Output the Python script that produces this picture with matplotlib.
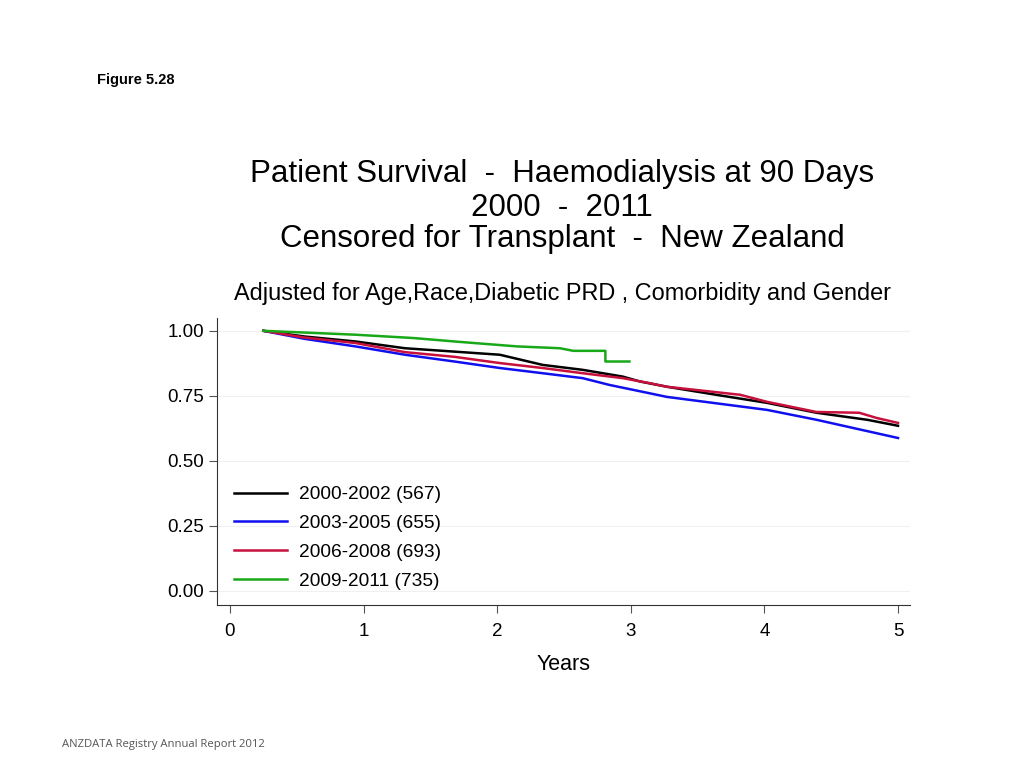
import matplotlib
matplotlib.use("Agg")
import matplotlib.pyplot as plt

plt.rcParams['font.family'] = ['Liberation Sans', 'DejaVu Sans']

# Kaplan-Meier estimates (years, survival)
t_0002 = [0.25, 0.56, 0.94, 1.31, 1.68, 2.02, 2.34, 2.64, 2.94, 3.07, 3.27, 3.64, 4.02, 4.39, 4.77, 5.0]
s_0002 = [1.0, 0.978, 0.959, 0.933, 0.920, 0.908, 0.869, 0.850, 0.824, 0.805, 0.785, 0.754, 0.723, 0.685, 0.658, 0.635]

t_0305 = [0.25, 0.56, 0.94, 1.31, 1.68, 2.02, 2.34, 2.64, 2.84, 3.14, 3.27, 4.02, 4.39, 5.0]
s_0305 = [1.0, 0.969, 0.940, 0.908, 0.882, 0.857, 0.837, 0.818, 0.792, 0.760, 0.746, 0.696, 0.658, 0.588]

t_0608 = [0.25, 0.56, 0.94, 1.31, 1.68, 2.02, 2.34, 2.64, 2.94, 3.14, 3.27, 3.82, 4.02, 4.39, 4.71, 4.84, 5.0]
s_0608 = [1.0, 0.974, 0.953, 0.918, 0.900, 0.876, 0.857, 0.837, 0.818, 0.799, 0.785, 0.754, 0.727, 0.688, 0.685, 0.665, 0.646]

t_0911 = [0.25, 0.94, 1.38, 1.68, 2.15, 2.47, 2.57, 2.81, 2.81, 2.99]
s_0911 = [1.0, 0.985, 0.972, 0.959, 0.940, 0.933, 0.923, 0.923, 0.882, 0.882]

labels = ['2000-2002 (567)', '2003-2005 (655)', '2006-2008 (693)', '2009-2011 (735)']
colors = ['black', '#1010ee', '#c8103c', '#18a818']
yticks = [0.0, 0.25, 0.5, 0.75, 1.0]
xticks = [0, 1, 2, 3, 4, 5]

fig = plt.figure(figsize=(10.24, 7.68), dpi=100)
ax = fig.add_axes([0.2119, 0.2122, 0.6768, 0.374])

for y in yticks:
    ax.axhline(y, color='#f0f0f0', lw=0.8, zorder=0)

series = [(t_0002, s_0002), (t_0305, s_0305), (t_0608, s_0608), (t_0911, s_0911)]
for (t, s), lab, c in zip(series, labels, colors):
    ax.plot(t, s, color=c, lw=1.8, label=lab)

ax.set_xlim(-0.097, 5.09)
ax.set_ylim(-0.054, 1.05)
ax.set_xticks(xticks)
ax.set_yticks(yticks)
ax.set_yticklabels(['%.2f' % v for v in yticks])
ax.tick_params(labelsize=13.5, length=6, width=0.8, colors='#555555', labelcolor='black')
ax.tick_params(axis='x', pad=7)
ax.spines['top'].set_visible(False)
ax.spines['right'].set_visible(False)
ax.spines['left'].set_color('#333333')
ax.spines['bottom'].set_color('#333333')
ax.set_xlabel('Years', fontsize=15.5, labelpad=10)

ax.legend(loc='upper left', bbox_to_anchor=(0.024, 0.415), frameon=False,
          fontsize=13.8, handlelength=2.8, handletextpad=0.62,
          labelspacing=0.6, borderpad=0, borderaxespad=0)

title_lines = ['Patient Survival  -  Haemodialysis at 90 Days', '2000  -  2011',
               'Censored for Transplant  -  New Zealand']
for line, yb in zip(title_lines, [0.763, 0.719, 0.679]):
    fig.text(0.549, yb, line, ha='center', va='baseline', fontsize=22.5)
fig.text(0.549, 0.609, 'Adjusted for Age,Race,Diabetic PRD , Comorbidity and Gender',
         ha='center', va='baseline', fontsize=16.9)
fig.text(0.095, 0.896, 'Figure 5.28', fontsize=10.5, fontweight='bold', ha='left', va='center')
fig.text(0.061, 0.030, 'ANZDATA Registry Annual Report 2012', fontsize=8.1, color='#555555',
         family=['Open Sans', 'DejaVu Sans'], ha='left', va='center')

fig.savefig('out.png', dpi=100)
